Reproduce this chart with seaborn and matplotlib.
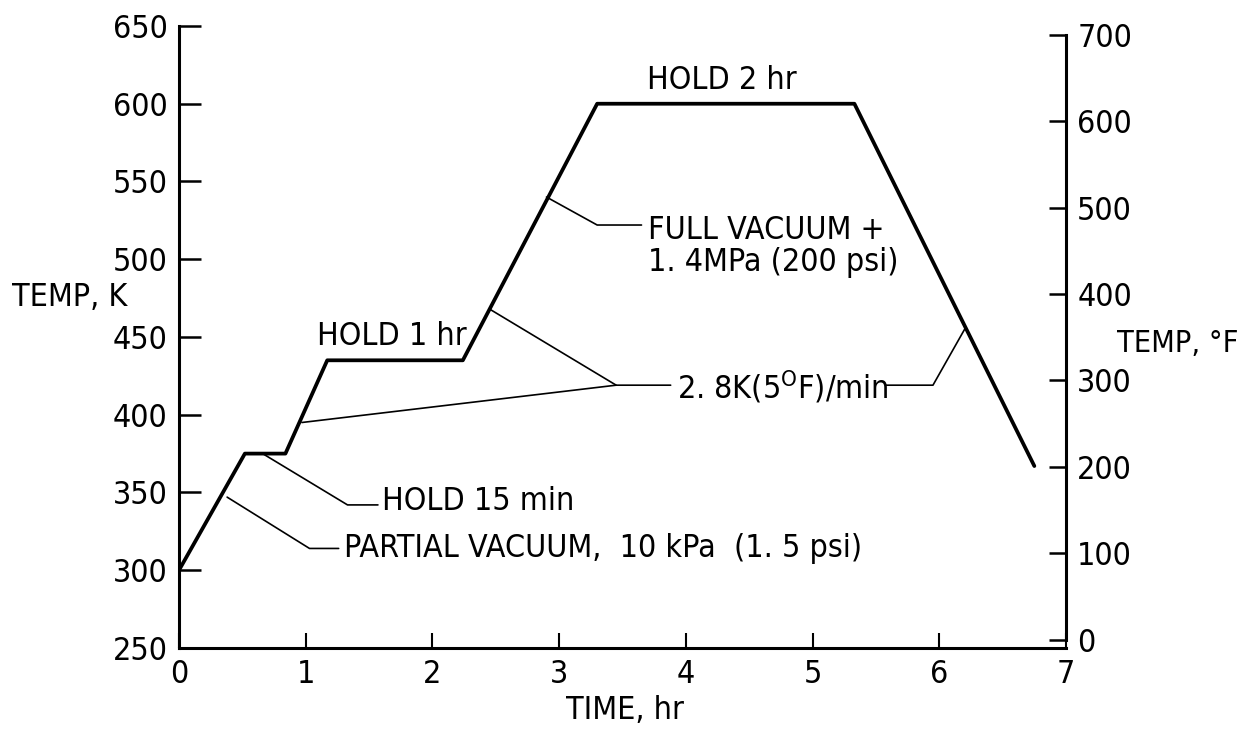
import matplotlib
matplotlib.use("Agg")
import matplotlib.pyplot as plt
import seaborn as sns
from matplotlib import font_manager as fm

# ---- data ----
time_hr = [0.0, 0.52, 0.84, 1.17, 2.24, 3.30, 5.33, 6.75]
temp_K = [300, 375, 375, 435, 435, 600, 600, 367]

x_ticks = [0, 1, 2, 3, 4, 5, 6, 7]
k_ticks = [250, 300, 350, 400, 450, 500, 550, 600, 650]
f_ticks = [0, 100, 200, 300, 400, 500, 600, 700]

# annotation texts, anchors (time, K) and leader polylines
labels = ["HOLD 1 hr", "HOLD 2 hr", "FULL VACUUM +\n1. 4MPa (200 psi)",
          "2. 8K(5$^\\mathregular{O}$F)/min", "HOLD 15 min",
          "PARTIAL VACUUM,  10 kPa  (1. 5 psi)"]
label_pos = [(1.09, 450), (3.69, 615), (3.70, 508), (3.93, 418), (1.60, 344), (1.30, 314)]
leaders = [
    [(2.90, 540), (3.30, 522), (3.65, 522)],
    [(0.97, 395), (3.45, 419), (3.88, 419)],
    [(2.45, 468), (3.45, 419)],
    [(5.58, 419), (5.95, 419), (6.20, 455)],
    [(0.66, 375), (1.33, 342), (1.57, 342)],
    [(0.38, 347), (1.03, 314), (1.26, 314)],
]

names = {f.name for f in fm.fontManager.ttflist}
fam = "Liberation Sans Narrow" if "Liberation Sans Narrow" in names else "DejaVu Sans"

sns.set_theme(style="white")
plt.rcParams["font.family"] = [fam, "DejaVu Sans"]
if fam == "DejaVu Sans":
    plt.rcParams["font.stretch"] = "condensed"
plt.rcParams["mathtext.default"] = "regular"

FS = 23


def k2f(k):
    return (k - 273.15) * 9.0 / 5.0 + 32.0


fig = plt.figure(figsize=(12.49, 7.32), dpi=100)
ax = fig.add_axes([0.1433, 0.1148, 0.7102, 0.8497])

sns.lineplot(x=time_hr, y=temp_K, ax=ax, color="black", lw=2.7,
             sort=False, estimator=None)

ax.set_xlim(0, 7)
ax.set_ylim(250, 650)
ax.set_xticks(x_ticks)
ax.set_xticklabels([str(v) for v in x_ticks])
ax.set_yticks(k_ticks)
ax.set_yticklabels([str(v) for v in k_ticks])

for s in ["top", "right"]:
    ax.spines[s].set_visible(False)
for s in ["left", "bottom"]:
    ax.spines[s].set_linewidth(2.2)
    ax.spines[s].set_color("black")

ax.tick_params(axis="y", direction="in", length=16, width=1.8, labelsize=FS, pad=8,
               colors="black", left=True)
ax.tick_params(axis="x", direction="in", length=11, width=1.5, labelsize=FS, pad=8,
               colors="black", bottom=True)

ax.set_xlabel("TIME, hr", fontsize=FS, color="black")
ax.xaxis.set_label_coords(0.503, -0.10)
ax.xaxis.label.set_va("center")
ax.set_ylabel("TEMP, K", fontsize=FS, rotation=0, ha="left", va="center", color="black")
ax.yaxis.set_label_coords(-0.188, 0.564)

ax2 = ax.twinx()
ax2.set_ylim(k2f(250), k2f(650))
ax2.set_yticks(f_ticks)
ax2.set_yticklabels([str(v) for v in f_ticks])
for s in ["top", "left", "bottom"]:
    ax2.spines[s].set_visible(False)
ax2.spines["right"].set_bounds(0, 700)
ax2.spines["right"].set_linewidth(2.2)
ax2.spines["right"].set_color("black")
ax2.tick_params(axis="y", direction="in", length=12, width=1.8, labelsize=FS, pad=8,
                colors="black", right=True)
ax2.set_ylabel("TEMP, °F", fontsize=FS - 1, rotation=0, ha="left", va="center", color="black")
ax2.yaxis.set_label_coords(1.058, 0.490)
ax2.grid(False)
ax.grid(False)

for pts in leaders:
    xs = [p[0] for p in pts]
    ys = [p[1] for p in pts]
    ax.plot(xs, ys, color="black", lw=1.2)

for txt, (x, y) in zip(labels, label_pos):
    ax.text(x, y, txt, fontsize=FS, ha="left", va="center", color="black",
            linespacing=1.05)

fig.savefig("out.png", dpi=100)
